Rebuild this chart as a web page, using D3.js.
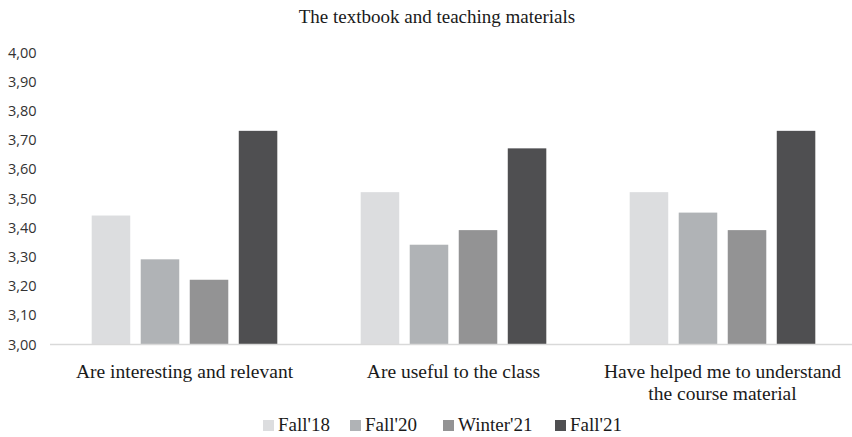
<!DOCTYPE html>
<html>
<head>
<meta charset="utf-8">
<script src="https://cdn.jsdelivr.net/npm/d3@7"></script>
<style>
  body { margin: 0; background: #fff; }
  svg { display: block; }
</style>
</head>
<body>
<svg id="chart"></svg>
<script>
// chart data
var categories = [
    ["Are interesting and relevant"],
    ["Are useful to the class"],
    ["Have helped me to understand", "the course material"]
];
var seriesNames = ["Fall'18", "Fall'20", "Winter'21", "Fall'21"];
var fall18 = [3.44, 3.52, 3.52];
var fall20 = [3.29, 3.34, 3.45];
var winter21 = [3.22, 3.39, 3.39];
var fall21 = [3.73, 3.67, 3.73];
var yTicks = [3.0, 3.1, 3.2, 3.3, 3.4, 3.5, 3.6, 3.7, 3.8, 3.9, 4.0];
var colours = ["#dcdddf", "#b0b3b6", "#939394", "#4f4f51"];

var seriesValues = [fall18, fall20, winter21, fall21];

var svgWidth = 852;
var svgHeight = 437;
var serif = "'Liberation Serif', 'Times New Roman', serif";

var svg = d3.select('#chart')
    .attr("width", svgWidth)
    .attr("height", svgHeight);

// scales
var xScale = d3.scaleBand()
    .domain(d3.range(categories.length))
    .range([50, 857])
    .paddingInner(0.31)
    .paddingOuter(0.155);

var xInner = d3.scaleBand()
    .domain(seriesNames)
    .range([0, xScale.bandwidth()])
    .paddingInner(0.214);

var yScale = d3.scaleLinear()
    .domain([3, 4])
    .range([344, 52]);

// title
svg.append("text")
    .attr("x", 437)
    .attr("y", 23)
    .attr("text-anchor", "middle")
    .style("font-family", serif)
    .style("font-size", "19px")
    .attr("fill", "#1a1a1a")
    .text("The textbook and teaching materials");

// y axis labels, no line
var yAxis = svg.append('g')
    .attr('class', 'axis')
    .attr('transform', 'translate(8, 0)')
    .call(d3.axisRight(yScale).tickValues(yTicks).tickSize(0)
        .tickFormat(function(d) { return d3.format(".2f")(d).replace(".", ","); }));
yAxis.select(".domain").remove();
yAxis.selectAll("text")
    .attr("x", 0)
    .attr("dy", "0.35em")
    .style("font-family", "'Open Sans', 'Liberation Sans', sans-serif")
    .style("font-size", "14.5px")
    .attr("fill", "#333333");

// bars
var groups = svg.append('g').selectAll('g')
    .data(categories)
    .join('g')
    .attr('transform', function(d, i) { return 'translate(' + xScale(i) + ',0)'; });

groups.selectAll('rect')
    .data(function(d, i) {
        return seriesNames.map(function(name, s) {
            return {name: name, value: seriesValues[s][i], colour: colours[s]};
        });
    })
    .join('rect')
    .attr('x', function(d) { return xInner(d.name); })
    .attr('width', xInner.bandwidth())
    .attr('y', function(d) { return yScale(d.value); })
    .attr('height', function(d) { return yScale(3) - yScale(d.value); })
    .attr('fill', function(d) { return d.colour; });

// baseline
svg.append('line')
    .attr('x1', 50)
    .attr('x2', 852)
    .attr('y1', yScale(3) + 0.5)
    .attr('y2', yScale(3) + 0.5)
    .attr('stroke', '#d9d9d9')
    .attr('stroke-width', 1.5);

// category labels
groups.each(function(lines) {
    var label = d3.select(this).append('text')
        .attr('text-anchor', 'middle')
        .style("font-family", serif)
        .style("font-size", "19.5px")
        .attr("fill", "#1a1a1a");
    lines.forEach(function(line, k) {
        label.append('tspan')
            .attr('x', xScale.bandwidth() / 2)
            .attr('y', 378 + k * 22)
            .text(line);
    });
});

// legend
var legendX = [263, 350, 443, 555];
var legend = svg.append('g').selectAll('g')
    .data(seriesNames)
    .join('g')
    .attr('transform', function(d, i) { return 'translate(' + legendX[i] + ',420)'; });

legend.append('rect')
    .attr('width', 11)
    .attr('height', 11)
    .attr('fill', function(d, i) { return colours[i]; });

legend.append('text')
    .attr('x', 15)
    .attr('y', 11)
    .style("font-family", serif)
    .style("font-size", "19px")
    .attr("fill", "#1a1a1a")
    .text(function(d) { return d; });
</script>
</body>
</html>
